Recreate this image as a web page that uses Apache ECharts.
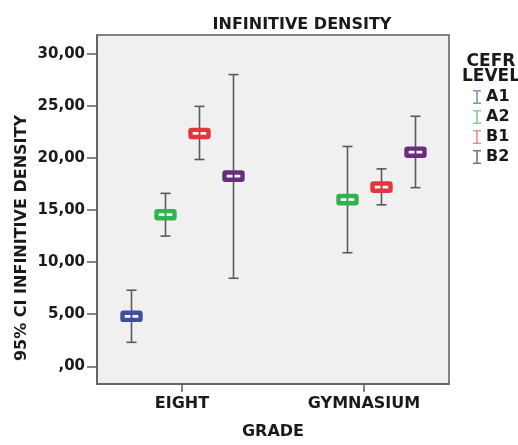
<!DOCTYPE html>
<html>
<head>
<meta charset="utf-8">
<script src="https://cdn.jsdelivr.net/npm/echarts@6/dist/echarts.min.js"></script>
<style>html,body{margin:0;padding:0;background:#fff;}#c{width:518px;height:445px;}</style>
</head>
<body>
<div id="c"></div>
<script>
const categories = ['EIGHT', 'GYMNASIUM'];
const levels = ['A1', 'A2', 'B1', 'B2'];
const meanA1 = [4.8, null],   lowA1 = [2.3, null],   highA1 = [7.3, null];
const meanA2 = [14.55, 16.0], lowA2 = [12.5, 10.9], highA2 = [16.6, 21.1];
const meanB1 = [22.35, 17.2], lowB1 = [19.85, 15.5], highB1 = [24.95, 18.95];
const meanB2 = [18.25, 20.55], lowB2 = [8.45, 17.15], highB2 = [28.0, 24.0];
const yTicks = [0, 5, 10, 15, 20, 25, 30];

const means = [meanA1, meanA2, meanB1, meanB2];
const lows = [lowA1, lowA2, lowB1, lowB2];
const highs = [highA1, highA2, highB1, highB2];
const markerColors = ['#3d4f9e', '#2fb350', '#e0373c', '#6b2c7d'];
const legendColors = ['#8a90b8', '#7fcf99', '#ec8f92', '#7b7388'];
const FONT = 'DejaVu Sans';

function fmt(v) {
  const s = v.toFixed(2).replace('.', ',');
  return s.startsWith('0,') ? s.slice(1) : s;
}

const chart = echarts.init(document.getElementById('c'), null, {renderer: 'canvas'});

const series = levels.map((lv, si) => {
  const data = [];
  categories.forEach((c, ci) => {
    if (means[si][ci] != null) data.push([ci, means[si][ci], lows[si][ci], highs[si][ci]]);
  });
  return {
    type: 'custom',
    name: lv,
    data: data,
    encode: {x: 0, y: [1, 2, 3]},
    itemStyle: {color: legendColors[si]},
    renderItem: function (params, api) {
      const slot = api.size([1, 0])[0] * 0.187;
      const off = (params.seriesIndex - 1.5) * slot;
      const pm = api.coord([api.value(0), api.value(1)]);
      const pl = api.coord([api.value(0), api.value(2)]);
      const ph = api.coord([api.value(0), api.value(3)]);
      const cx = Math.round(pm[0] + off) + 0.5;
      const lineStyle = {stroke: '#5a5a5a', lineWidth: 1.6};
      const capW = 5;
      const col = markerColors[params.seriesIndex];
      return {
        type: 'group',
        children: [
          {type: 'line', shape: {x1: cx, y1: ph[1], x2: cx, y2: pl[1]}, style: lineStyle},
          {type: 'line', shape: {x1: cx - capW, y1: ph[1], x2: cx + capW, y2: ph[1]}, style: lineStyle},
          {type: 'line', shape: {x1: cx - capW, y1: pl[1], x2: cx + capW, y2: pl[1]}, style: lineStyle},
          {type: 'rect', shape: {x: cx - 9, y: pm[1] - 3.6, width: 18, height: 7.2, r: 1},
            style: {fill: '#f8f8f8', stroke: col, lineWidth: 4.4}},
          {type: 'line', shape: {x1: cx, y1: pm[1] - 2.5, x2: cx, y2: pm[1] + 2.5},
            style: {stroke: col, lineWidth: 2}}
        ]
      };
    }
  };
});

chart.setOption({
  animation: false,
  backgroundColor: '#ffffff',
  title: [
    {text: 'INFINITIVE DENSITY', left: 297, top: 12, textAlign: 'center',
      textStyle: {fontFamily: FONT, fontWeight: 'bold', fontSize: 16, color: '#1a1a1a'}},
    {text: 'CEFR\nLEVEL', left: 486, top: 49, textAlign: 'center',
      textStyle: {fontFamily: FONT, fontWeight: 'bold', fontSize: 17, lineHeight: 15, color: '#1a1a1a'}}
  ],
  legend: {
    orient: 'vertical',
    left: 468,
    top: 84,
    itemWidth: 8,
    itemHeight: 14,
    itemGap: 4,
    icon: 'path://M0,0H8V1.5H4.8V12.5H8V14H0V12.5H3.2V1.5H0Z',
    textStyle: {fontFamily: FONT, fontWeight: 'bold', fontSize: 16, color: '#1a1a1a', lineHeight: 14},
    data: levels.map((lv, i) => ({name: lv, itemStyle: {color: legendColors[i]}}))
  },
  grid: {
    left: 97, right: 69, top: 35, bottom: 55,
    show: true, backgroundColor: '#f0f0f0', borderColor: '#5c5c5c', borderWidth: 1.5
  },
  xAxis: {
    type: 'value',
    min: -0.467,
    max: 1.467,
    name: 'GRADE',
    nameLocation: 'middle',
    nameGap: 40,
    nameTextStyle: {fontFamily: FONT, fontWeight: 'bold', fontSize: 16, color: '#1a1a1a'},
    axisLine: {show: true, onZero: false, lineStyle: {color: '#5c5c5c', width: 1.5}},
    axisTick: {show: true, customValues: [0, 1], length: 8, lineStyle: {color: '#5c5c5c', width: 1.5}},
    axisLabel: {customValues: [0, 1], margin: 12, formatter: v => categories[Math.round(v)],
      fontFamily: FONT, fontWeight: 'bold', fontSize: 16, color: '#1a1a1a'},
    splitLine: {show: false}
  },
  yAxis: {
    type: 'value',
    min: -1.7,
    max: 31.8,
    axisLine: {show: true, onZero: false, lineStyle: {color: '#5c5c5c', width: 1.5}},
    axisTick: {show: true, customValues: yTicks, length: 10, lineStyle: {color: '#5c5c5c', width: 1.5}},
    axisLabel: {customValues: yTicks, margin: 12, formatter: v => fmt(v),
      fontFamily: FONT, fontWeight: 'bold', fontSize: 15, color: '#1a1a1a'},
    splitLine: {show: false}
  },
  graphic: [
    {type: 'text', x: 22, y: 238, rotation: Math.PI / 2,
      style: {text: '95% CI INFINITIVE DENSITY', fontFamily: FONT, fontWeight: 'bold', fontSize: 16,
        fill: '#1a1a1a', textAlign: 'center', textVerticalAlign: 'middle'}}
  ],
  series: series
});
</script>
</body>
</html>
